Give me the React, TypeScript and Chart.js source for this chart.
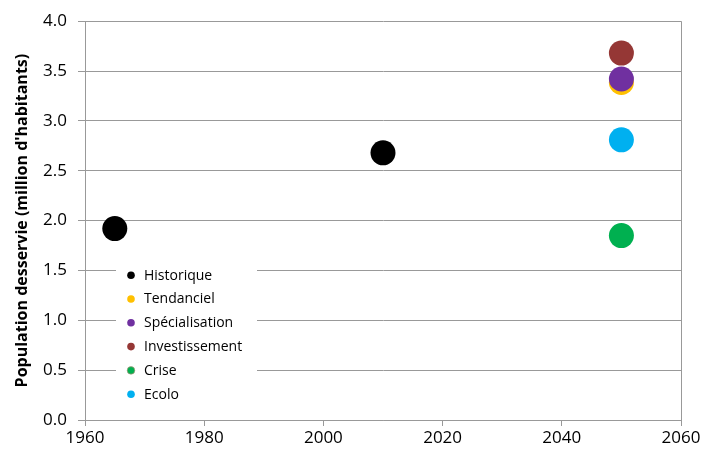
import React, { useEffect, useRef } from "react";
import { Chart, registerables } from "chart.js";

Chart.register(...registerables);

const seriesNames = ["Historique", "Tendanciel", "Spécialisation", "Investissement", "Crise", "Ecolo"];
const seriesColors = ["#000000", "#FFC000", "#7030A0", "#953735", "#00B050", "#00B0F0"];
const historiqueYears = [1965, 2010];
const historiqueValues = [1.92, 2.68];
const scenarioYear = 2050;
const tendancielValue = [3.385];
const specialisationValue = [3.42];
const investissementValue = [3.68];
const criseValue = [1.85];
const ecoloValue = [2.81];
const xTicks = [1960, 1980, 2000, 2020, 2040, 2060];
const yTicks = [0, 0.5, 1, 1.5, 2, 2.5, 3, 3.5, 4];
const yTitle = "Population desservie (million d'habitants)";

const legendPlugin = {
  id: "customLegend",
  afterDraw(chart: any) {
    const { ctx, chartArea } = chart;
    ctx.save();
    ctx.strokeStyle = "#999999";
    ctx.lineWidth = 1;
    ctx.beginPath();
    ctx.moveTo(Math.round(chartArea.right) + 0.5, chartArea.top);
    ctx.lineTo(Math.round(chartArea.right) + 0.5, chartArea.bottom);
    ctx.stroke();
    const bx = chartArea.left + 31;
    const by = chartArea.top + 238;
    ctx.fillStyle = "#ffffff";
    ctx.fillRect(bx, by, 141, 147);
    ctx.font = "14px 'Open Sans'";
    ctx.textBaseline = "middle";
    ctx.textAlign = "left";
    chart.data.datasets.forEach((ds: any, i: number) => {
      const cy = by + 16 + i * 23.8;
      ctx.beginPath();
      ctx.arc(bx + 15, cy, 3.8, 0, Math.PI * 2);
      ctx.fillStyle = ds.backgroundColor;
      ctx.fill();
      if (ds.label === "Crise") {
        ctx.strokeStyle = "rgba(190,140,120,0.6)";
        ctx.lineWidth = 1;
        ctx.stroke();
      }
      ctx.fillStyle = "#000000";
      ctx.fillText(ds.label, bx + 28, cy + 0.5);
    });
    ctx.restore();
  },
};

export default function App() {
  const ref = useRef<HTMLCanvasElement>(null);
  useEffect(() => {
    const scenarioValues = [tendancielValue, specialisationValue, investissementValue, criseValue, ecoloValue];
    const datasets = seriesNames.map((name, i) => {
      const data =
        i === 0
          ? historiqueYears.map((x, k) => ({ x, y: historiqueValues[k] }))
          : scenarioValues[i - 1].map((y) => ({ x: scenarioYear, y }));
      return {
        label: name,
        data,
        order: seriesNames.length - i,
        backgroundColor: seriesColors[i],
        borderColor: seriesColors[i],
        borderWidth: 0,
        pointRadius: 12.5,
        pointHoverRadius: 12.5,
      };
    });
    const chart = new Chart(ref.current!, {
      type: "scatter",
      data: { datasets },
      options: {
        animation: false,
        responsive: false,
        layout: { padding: { top: 20, right: 22, left: 0, bottom: 0 } },
        plugins: { legend: { display: false }, tooltip: { enabled: false } },
        scales: {
          x: {
            type: "linear",
            min: 1960,
            max: 2060,
            afterBuildTicks: (s: any) => {
              s.ticks = xTicks.map((v) => ({ value: v }));
            },
            afterFit: (s: any) => {
              s.height = 37;
            },
            ticks: {
              font: { family: "Open Sans", size: 17 },
              color: "#000",
              padding: 2,
              callback: (v: any) => String(v),
            },
            grid: { drawOnChartArea: false, color: "#999999", tickLength: 6 },
            border: { color: "#999999" },
          },
          y: {
            min: 0,
            max: 4,
            afterBuildTicks: (s: any) => {
              s.ticks = yTicks.map((v) => ({ value: v }));
            },
            afterFit: (s: any) => {
              s.width = 85;
            },
            ticks: {
              font: { family: "Open Sans", size: 17 },
              color: "#000",
              padding: 11,
              callback: (v: any) => Number(v).toFixed(1),
            },
            grid: { color: "#999999", tickLength: 7 },
            border: { color: "#999999" },
            title: {
              display: true,
              text: yTitle,
              font: { family: "Open Sans", size: 16, weight: "bold" },
              color: "#000",
              padding: { top: 13, bottom: 0 },
            },
          },
        },
      },
      plugins: [legendPlugin],
    });
    return () => chart.destroy();
  }, []);
  return (
    <div style={{ position: "fixed", left: 0, top: 0, width: 703, height: 457, background: "#fff" }}>
      <canvas ref={ref} width={703} height={457} style={{ width: 703, height: 457 }} />
    </div>
  );
}
